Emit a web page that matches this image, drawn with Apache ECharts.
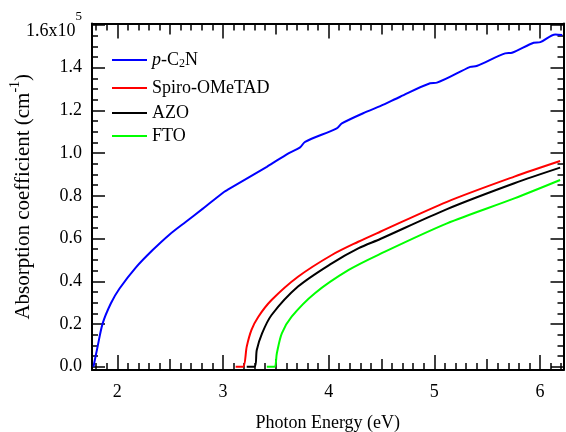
<!DOCTYPE html>
<html lang="en">
<head>
<meta charset="UTF-8">
<title>Absorption coefficient</title>
<script src="https://cdn.jsdelivr.net/npm/echarts@6/dist/echarts.min.js"></script>
<style>
  html, body { margin: 0; padding: 0; background: #fff; }
  #chart { width: 566px; height: 432px; }
</style>
</head>
<body>
<div id="chart"></div>
<script>
// p-C2N
var cnEnergy = [1.775, 1.814, 1.862, 1.94, 2.02, 2.177, 2.335, 2.49, 2.65, 2.81, 3.013, 3.05, 3.415, 3.62, 3.73, 3.777,
  4.077, 4.125, 4.36, 4.488, 4.677, 4.96, 5.025, 5.34, 5.40, 5.67, 5.735, 5.94, 6.003, 6.145, 6.21];
var cnAbs = [0, 0.094, 0.203, 0.297, 0.365, 0.465, 0.546, 0.617, 0.679, 0.740, 0.819, 0.830, 0.936, 0.999, 1.027, 1.053,
  1.116, 1.139, 1.194, 1.220, 1.264, 1.327, 1.330, 1.404, 1.408, 1.467, 1.470, 1.517, 1.520, 1.556, 1.553];

// Spiro-OMeTAD
var spiroEnergy = [3.12, 3.19, 3.225, 3.27, 3.335, 3.46, 3.71, 4.03, 4.28, 4.488, 5.12, 5.757, 6.19];
var spiroAbs = [0, 0, 0.094, 0.172, 0.234, 0.312, 0.421, 0.523, 0.585, 0.632, 0.772, 0.890, 0.963];

// AZO
var azoEnergy = [3.225, 3.30, 3.32, 3.37, 3.46, 3.71, 4.03, 4.28, 4.488, 5.12, 5.757, 6.19];
var azoAbs = [0, 0, 0.078, 0.156, 0.242, 0.375, 0.484, 0.554, 0.598, 0.738, 0.859, 0.932];

// FTO
var ftoEnergy = [3.415, 3.487, 3.51, 3.557, 3.65, 3.87, 4.19, 4.488, 5.12, 5.757, 6.19];
var ftoAbs = [0, 0, 0.063, 0.156, 0.234, 0.344, 0.453, 0.528, 0.671, 0.788, 0.874];

// ticks
var xMajor = [2, 3, 4, 5, 6];
var xMid = [2.5, 3.5, 4.5, 5.5];
var yMajor = [0, 0.2, 0.4, 0.6, 0.8, 1.0, 1.2, 1.4, 1.6];

var X_MIN = 1.761, X_MAX = 6.222;
var Y_MIN = -0.0155, Y_MAX = 1.607;
var FONT = 'Liberation Serif';

var xMinor = [];
for (var k = 18; k <= 62; k++) if (k % 5 !== 0) xMinor.push(k / 10);
var yMinor = [];
for (var j = 1; j < 32; j++) if (j % 4 !== 0) yMinor.push(j / 20);

function pairs(xs, ys) {
  return xs.map(function (x, i) { return [x, ys[i]]; });
}

function tickAxis(pos, vals, len, withLine, isY) {
  return {
    type: 'value',
    position: pos,
    min: isY ? Y_MIN : X_MIN,
    max: isY ? Y_MAX : X_MAX,
    axisLine: { show: withLine, onZero: false, lineStyle: { color: '#000', width: 2 } },
    axisTick: { show: true, inside: true, length: len, customValues: vals, lineStyle: { color: '#000', width: 1.5 } },
    axisLabel: { show: false },
    splitLine: { show: false }
  };
}

// bottom axis with labels + name
var xBottom = tickAxis('bottom', xMajor, 15, true, false);
xBottom.axisLabel = { show: true, customValues: xMajor, margin: 13, color: '#000', fontFamily: FONT, fontSize: 18 };
xBottom.name = 'Photon Energy (eV)';
xBottom.nameLocation = 'middle';
xBottom.nameGap = 44;
xBottom.nameMoveOverlap = false;
xBottom.nameTextStyle = { color: '#000', fontFamily: FONT, fontSize: 18 };

// left axis with labels + name
var yLeft = tickAxis('left', yMajor, 13, true, true);
yLeft.axisLabel = {
  show: true, customValues: yMajor, margin: 10, color: '#000', fontFamily: FONT, fontSize: 18,
  formatter: function (v) {
    if (Math.abs(v - 1.6) < 1e-9) return '{a|1.6x10}{s|5}';
    return v.toFixed(1);
  },
  rich: {
    a: { fontFamily: FONT, fontSize: 18, lineHeight: 30, verticalAlign: 'bottom', color: '#000' },
    s: { fontFamily: FONT, fontSize: 13, lineHeight: 14, verticalAlign: 'top', color: '#000' }
  }
};
yLeft.name = '{a|Absorption coefficient (cm}{s|-1}{a|)}';
yLeft.nameLocation = 'middle';
yLeft.nameGap = 58;
yLeft.nameMoveOverlap = false;
yLeft.nameTextStyle = {
  color: '#000', fontFamily: FONT, fontSize: 21,
  rich: {
    a: { fontFamily: FONT, fontSize: 21, lineHeight: 26, verticalAlign: 'bottom', color: '#000' },
    s: { fontFamily: FONT, fontSize: 14, lineHeight: 14, verticalAlign: 'top', color: '#000' }
  }
};

var legendRich = {
  i: { fontFamily: FONT, fontSize: 18, fontStyle: 'italic', lineHeight: 20, color: '#000' },
  n: { fontFamily: FONT, fontSize: 18, lineHeight: 20, color: '#000' },
  sub: { fontFamily: FONT, fontSize: 12, lineHeight: 12, padding: [8, 0, 0, 0], verticalAlign: 'bottom', color: '#000' }
};

function legendAt(name, top) {
  return {
    data: [name],
    left: 112,
    top: top,
    padding: 0,
    icon: 'rect',
    itemWidth: 35,
    itemHeight: 2,
    selectedMode: false,
    textStyle: { color: '#000', fontFamily: FONT, fontSize: 18, lineHeight: 20, rich: legendRich },
    formatter: function (n) {
      if (n === 'p-C2N') return '{i|p}{n|-C}{sub|2}{n|N}';
      return n;
    }
  };
}

function lineSeries(name, color, xs, ys) {
  return {
    name: name,
    type: 'line',
    xAxisIndex: 0,
    yAxisIndex: 0,
    data: pairs(xs, ys),
    symbol: 'none',
    smooth: 0.3,
    lineStyle: { color: color, width: 2 },
    itemStyle: { color: color }
  };
}

var chart = echarts.init(document.getElementById('chart'));
chart.setOption({
  animation: false,
  backgroundColor: '#fff',
  grid: { left: 92, right: 2.5, top: 23.5, bottom: 62, containLabel: false, outerBoundsMode: 'none' },
  legend: [
    legendAt('p-C2N', 50),
    legendAt('Spiro-OMeTAD', 78),
    legendAt('AZO', 103),
    legendAt('FTO', 126)
  ],
  xAxis: [
    xBottom,
    tickAxis('bottom', xMid, 11, false, false),
    tickAxis('bottom', xMinor, 7, false, false),
    tickAxis('top', xMajor, 15, true, false),
    tickAxis('top', xMid, 11, false, false),
    tickAxis('top', xMinor, 7, false, false)
  ],
  yAxis: [
    yLeft,
    tickAxis('left', yMinor, 6, false, true),
    tickAxis('right', yMajor, 13, true, true),
    tickAxis('right', yMinor, 6, false, true)
  ],
  series: [
    lineSeries('p-C2N', '#0000ff', cnEnergy, cnAbs),
    lineSeries('Spiro-OMeTAD', '#ff0000', spiroEnergy, spiroAbs),
    lineSeries('AZO', '#000000', azoEnergy, azoAbs),
    lineSeries('FTO', '#00ff00', ftoEnergy, ftoAbs)
  ]
});
</script>
</body>
</html>
